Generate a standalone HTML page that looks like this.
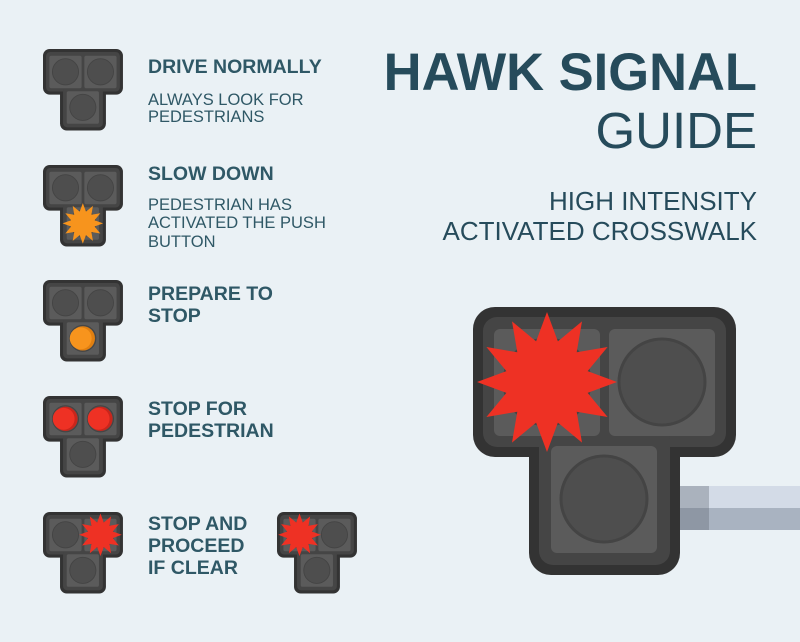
<!DOCTYPE html>
<html><head><style>
html,body{margin:0;padding:0;background:#eaf1f5;}
svg{display:block;}
.h{font-family:"Liberation Sans",sans-serif;font-weight:bold;font-size:19.5px;fill:#2f5866;}
.s{font-family:"Liberation Sans",sans-serif;font-size:16.5px;fill:#2f5866;}
</style></head><body>
<svg width="800" height="642" viewBox="0 0 800 642" xmlns="http://www.w3.org/2000/svg">
<defs>
<g id="sig">
<rect x="0" y="0" width="263" height="150" rx="22" fill="#333"/>
<rect x="56" y="120" width="151" height="148" rx="22" fill="#333"/>
<rect x="10" y="10" width="243" height="130" rx="14" fill="#454545"/>
<rect x="66" y="120" width="131" height="138" rx="14" fill="#454545"/>
<rect x="21" y="22" width="106" height="107" rx="6" fill="#5b5b5b"/>
<rect x="136" y="22" width="106" height="107" rx="6" fill="#5b5b5b"/>
<rect x="78" y="139" width="106" height="107" rx="6" fill="#5b5b5b"/>
<circle cx="74" cy="75" r="43" fill="#4e4e4e" stroke="#444" stroke-width="3"/>
<circle cx="189" cy="75" r="43" fill="#4e4e4e" stroke="#444" stroke-width="3"/>
<circle cx="131" cy="192" r="43" fill="#4e4e4e" stroke="#444" stroke-width="3"/>
</g>
<path id="star" d="M0,-70 L10.9,-40.6 L35,-60.6 L29.7,-29.7 L60.6,-35 L40.6,-10.9 L70,0 L40.6,10.9 L60.6,35 L29.7,29.7 L35,60.6 L10.9,40.6 L0,70 L-10.9,40.6 L-35,60.6 L-29.7,29.7 L-60.6,35 L-40.6,10.9 L-70,0 L-40.6,-10.9 L-60.6,-35 L-29.7,-29.7 L-35,-60.6 L-10.9,-40.6 Z"/>
</defs>

<rect x="680" y="486" width="120" height="22" fill="#d3dbe7"/>
<rect x="680" y="508" width="120" height="22" fill="#a9b3c1"/>
<rect x="680" y="486" width="29" height="22" fill="#aab2bd"/>
<rect x="680" y="508" width="29" height="22" fill="#8e97a4"/>

<g transform="translate(473,307)">
<use href="#sig"/>
<use href="#star" transform="translate(74,75)" fill="#ee3124"/>
</g>

<g transform="translate(43,49) scale(0.304)"><use href="#sig"/></g>
<g transform="translate(43,165) scale(0.304)"><use href="#sig"/>
<use href="#star" transform="translate(131,192) scale(0.95)" fill="#f7941d"/></g>
<g transform="translate(43,280) scale(0.304)"><use href="#sig"/>
<circle cx="131" cy="192" r="40" fill="#e07f10"/><circle cx="124" cy="192" r="36" fill="#f7941d"/></g>
<g transform="translate(43,396) scale(0.304)"><use href="#sig"/>
<circle cx="74" cy="75" r="40" fill="#c8261c"/><circle cx="68" cy="75" r="36" fill="#ee3124"/>
<circle cx="189" cy="75" r="40" fill="#c8261c"/><circle cx="183" cy="75" r="36" fill="#ee3124"/></g>
<g transform="translate(43,512) scale(0.304)"><use href="#sig"/>
<use href="#star" transform="translate(189,75)" fill="#ee3124"/></g>
<g transform="translate(277,512) scale(0.304)"><use href="#sig"/>
<use href="#star" transform="translate(74,75)" fill="#ee3124"/></g>

<text class="h" x="148" y="73">DRIVE NORMALLY</text>
<text class="s" x="148" y="105">ALWAYS LOOK FOR</text>
<text class="s" x="148" y="122">PEDESTRIANS</text>
<text class="h" x="148" y="180">SLOW DOWN</text>
<text class="s" x="148" y="210">PEDESTRIAN HAS</text>
<text class="s" x="148" y="228">ACTIVATED THE PUSH</text>
<text class="s" x="148" y="247">BUTTON</text>
<text class="h" x="148" y="300">PREPARE TO</text>
<text class="h" x="148" y="322">STOP</text>
<text class="h" x="148" y="415">STOP FOR</text>
<text class="h" x="148" y="437">PEDESTRIAN</text>
<text class="h" x="148" y="530">STOP AND</text>
<text class="h" x="148" y="552">PROCEED</text>
<text class="h" x="148" y="574">IF CLEAR</text>

<text x="757" y="90" text-anchor="end" font-family="Liberation Sans, sans-serif" font-weight="bold" font-size="52.5" fill="#264b5b">HAWK SIGNAL</text>
<text x="757" y="148" text-anchor="end" font-family="Liberation Sans, sans-serif" font-size="51" fill="#264b5b">GUIDE</text>
<text x="757" y="210" text-anchor="end" font-family="Liberation Sans, sans-serif" font-size="26" fill="#264b5b">HIGH INTENSITY</text>
<text x="757" y="240" text-anchor="end" font-family="Liberation Sans, sans-serif" font-size="26" fill="#264b5b">ACTIVATED CROSSWALK</text>
</svg>
</body></html>
